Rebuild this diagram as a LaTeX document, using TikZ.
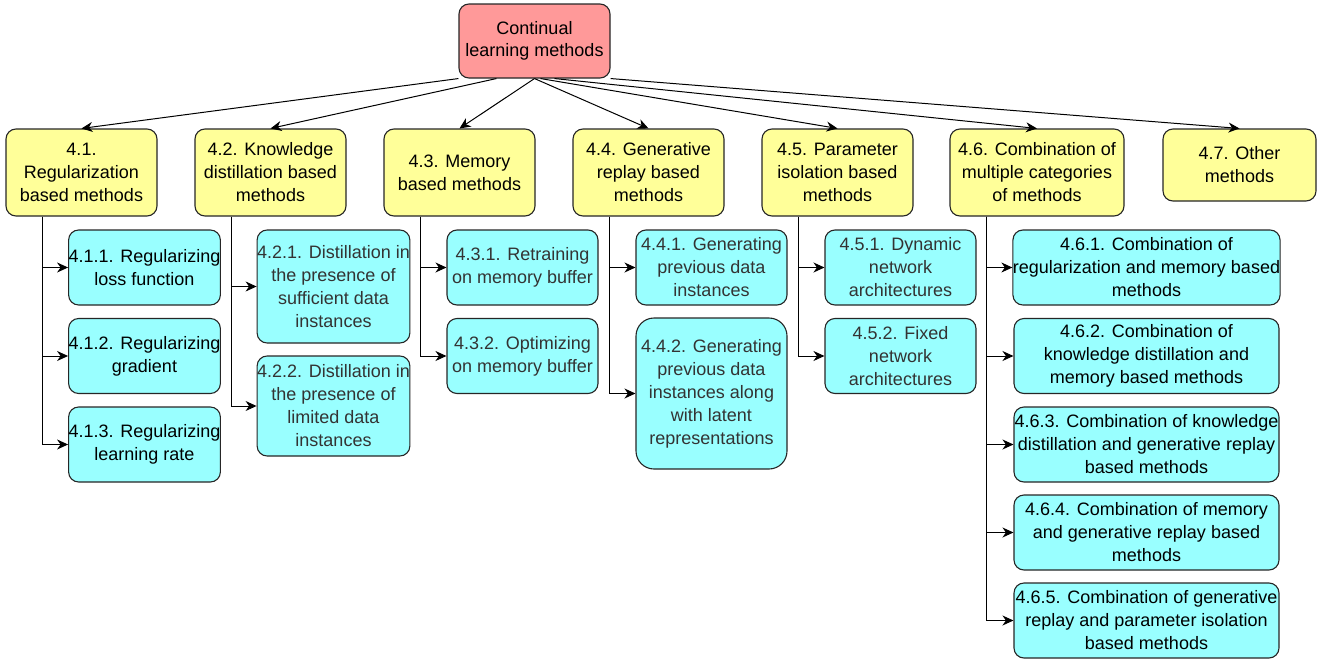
\documentclass[tikz,border=0pt]{standalone}
\usepackage{fontspec}
\setmainfont{Liberation Sans}
\usepackage{tikz}
\usetikzlibrary{arrows.meta}

\definecolor{rootred}{HTML}{FF9999}
\definecolor{catyellow}{HTML}{FFFF99}
\definecolor{subcyan}{HTML}{99FFFF}
\definecolor{greytext}{HTML}{333333}

\begin{document}
\begin{tikzpicture}[x=1pt, y=-1pt,
    box/.style={draw=black!85, line width=1.1pt, rounded corners=10pt, align=center,
        inner sep=0pt, font=\fontsize{18}{23}\selectfont},
    rootbox/.style={box, fill=rootred, minimum width=151pt, minimum height=74pt,
        font=\fontsize{18}{22}\selectfont},
    catbox/.style={box, fill=catyellow, minimum width=151pt, minimum height=87pt},
    subbox/.style={box, fill=subcyan, minimum width=151pt, minimum height=75pt},
    widebox/.style={subbox, minimum width=265pt},
    greybox/.style={subbox, text=greytext},
    link/.style={line width=1pt, -{Stealth[length=11pt, width=10pt, inset=3.5pt]}}]
    \useasboundingbox (0, 0) rectangle (1326, 664);

    % root and categories
    \node[rootbox] (root) at (534.5, 41) {Continual\\learning methods};
    \node[catbox] (c41) at (81.5, 172.5) {4.1.\\Regularization\\based methods};
    \node[catbox] (c42) at (270.5, 172.5) {4.2. Knowledge\\distillation based\\methods};
    \node[catbox] (c43) at (459.5, 172.5) {4.3. Memory\\based methods};
    \node[catbox] (c44) at (648.5, 172.5) {4.4. Generative\\replay based\\methods};
    \node[catbox] (c45) at (837.5, 172.5) {4.5. Parameter\\isolation based\\methods};
    \node[catbox, minimum width=174pt] (c46) at (1037, 172.5) {4.6. Combination of\\multiple categories\\of methods};
    \node[catbox, minimum width=153pt, minimum height=72pt] (c47) at (1239.5, 165) {4.7. Other\\methods};

    % subcategories
    \node[subbox] (s411) at (144.5, 267.5) {4.1.1. Regularizing\\loss function};
    \node[subbox] (s412) at (144.5, 356) {4.1.2. Regularizing\\gradient};
    \node[subbox] (s413) at (144.5, 444.5) {4.1.3. Regularizing\\learning rate};
    \node[greybox, minimum height=113pt] (s421) at (333.5, 286.5) {4.2.1. Distillation in\\the presence of\\sufficient data\\instances};
    \node[greybox, minimum height=100pt] (s422) at (333.5, 406) {4.2.2. Distillation in\\the presence of\\limited data\\instances};
    \node[greybox] (s431) at (522.5, 267.5) {4.3.1. Retraining\\on memory buffer};
    \node[greybox] (s432) at (522.5, 356) {4.3.2. Optimizing\\on memory buffer};
    \node[greybox] (s441) at (711.5, 267.5) {4.4.1. Generating\\previous data\\instances};
    \node[greybox, minimum height=151pt, rounded corners=18pt] (s442) at (711.5, 393.5) {4.4.2. Generating\\previous data\\instances along\\with latent\\representations};
    \node[greybox] (s451) at (900.5, 267.5) {4.5.1. Dynamic\\network\\architectures};
    \node[greybox] (s452) at (900.5, 356) {4.5.2. Fixed\\network\\architectures};
    \node[widebox] (s461) at (1146.5, 267.5) {4.6.1. Combination of\\regularization and memory based\\methods};
    \node[widebox] (s462) at (1146.5, 356) {4.6.2. Combination of\\knowledge distillation and\\memory based methods};
    \node[widebox] (s463) at (1146.5, 444.5) {4.6.3. Combination of knowledge\\distillation and generative replay\\based methods};
    \node[widebox] (s464) at (1146.5, 532.5) {4.6.4. Combination of memory\\and generative replay based\\methods};
    \node[widebox] (s465) at (1146.5, 620.5) {4.6.5. Combination of generative\\replay and parameter isolation\\based methods};

    % root to categories
    \draw[link] (root.south west) -- (c41.north);
    \draw[link] ([xshift=38pt]root.south west) -- (c42.north);
    \draw[link] (root.south) -- (c43.north);
    \draw[link] (root.south) -- (c44.north);
    \draw[link] ([xshift=6pt]root.south) -- (c45.north);
    \draw[link] ([xshift=20pt]root.south) -- (c46.north);
    \draw[link] (root.south east) -- (c47.north);

    % categories to subcategories
    \foreach \c/\s in {c41/s411, c41/s412, c41/s413, c42/s421, c42/s422,
        c43/s431, c43/s432, c44/s441, c44/s442, c45/s451, c45/s452,
        c46/s461, c46/s462, c46/s463, c46/s464, c46/s465}
        \draw[link] ([xshift=37.5pt]\c.south west) |- (\s.west);
\end{tikzpicture}
\end{document}
